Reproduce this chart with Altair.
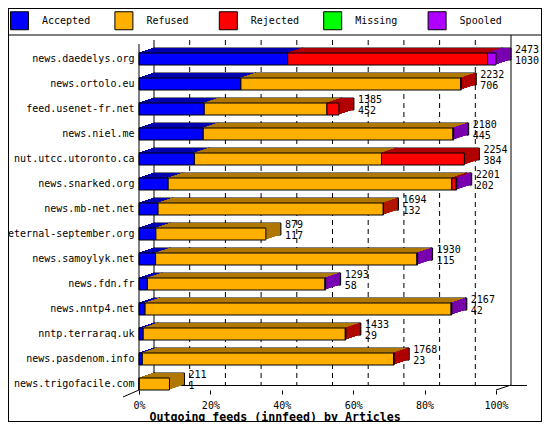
import math
import altair as alt
import pandas as pd

hosts = ["news.daedelys.org", "news.ortolo.eu", "feed.usenet-fr.net", "news.niel.me",
         "nut.utcc.utoronto.ca", "news.snarked.org", "news.mb-net.net",
         "eternal-september.org", "news.samoylyk.net", "news.fdn.fr", "news.nntp4.net",
         "nntp.terraraq.uk", "news.pasdenom.info", "news.trigofacile.com"]
offered = [2473, 2232, 1385, 2180, 2254, 2201, 1694, 879, 1930, 1293, 2167, 1433, 1768, 211]
accepted = [1030, 706, 452, 445, 384, 202, 132, 117, 115, 58, 42, 29, 23, 1]
refused = [0, 1523, 850, 1730, 1296, 1965, 1560, 762, 1810, 1230, 2120, 1400, 1740, 210]
rejected = [1385, 3, 83, 0, 574, 29, 2, 0, 0, 0, 0, 4, 5, 0]
missing = [0, 0, 0, 0, 0, 0, 0, 0, 0, 0, 0, 0, 0, 0]
spooled = [58, 0, 0, 5, 0, 5, 0, 0, 5, 5, 5, 0, 0, 0]

categories = ["Accepted", "Refused", "Rejected", "Missing", "Spooled"]
front_colors = ["#0000ff", "#ffaf00", "#ff0000", "#00ff00", "#af00ff"]
dark_colors = ["#0000b0", "#b07800", "#b00000", "#00b000", "#7800b0"]
pct_ticks = [0, 10, 20, 30, 40, 50, 60, 70, 80, 90, 100]
title_text = "Outgoing feeds (innfeed) by Articles"

FONT = "DejaVu Sans Mono"
scale_max = max(offered)

rows = []
series = [accepted, refused, rejected, missing, spooled]
for i, h in enumerate(hosts):
    cum = 0
    for cat, s in zip(categories, series):
        v = s[i]
        if v > 0:
            rows.append(dict(host=h, cat=cat, start=cum / scale_max * 100,
                             end=(cum + v) / scale_max * 100, value=v))
        cum += v
seg = pd.DataFrame(rows)
lab = pd.DataFrame(dict(host=hosts, offered=offered, accepted=accepted,
                        pct=[o / scale_max * 100 for o in offered]))
grid = pd.DataFrame(dict(pct=pct_ticks[1:-1]))

W, H = 357, 350
PAD_L, PAD_T = 131, 38.5
PAD_R = 534 - PAD_L - W
PAD_B = 414 - PAD_T - H
DEPTH_X, DEPTH_Y = 15, 5
xscale = alt.Scale(domain=[0, 100], nice=False, zero=True)
yscale = alt.Scale(domain=hosts, paddingInner=0, paddingOuter=0)

x_axis = alt.Axis(values=pct_ticks, labelExpr="datum.value + '%'", domain=False, grid=False,
                  tickSize=4, tickColor="black", labelPadding=6, labelFont=FONT,
                  labelFontSize=10, labelColor="black", offset=-6.5, labelFlush=False,
                  labelOverlap=False, title=title_text, titleFont=FONT, titleFontSize=11.6,
                  titleFontWeight="bold", titleColor="black", titleX=10, titleY=27,
                  titleAlign="left", titleBaseline="middle")
y_axis = alt.Axis(title=None, domain=False, ticks=False, labelPadding=5, labelFont=FONT,
                  labelFontSize=10, labelColor="black", labelLimit=0)

base = alt.Chart(seg)
deco = alt.Chart(pd.DataFrame({"a": [0]}))

layers = []
# back wall grid lines and floor
layers.append(alt.Chart(grid).mark_rule(color="black", strokeDash=[5, 4], xOffset=DEPTH_X).encode(
    x=alt.X("pct:Q", scale=xscale, axis=x_axis), y=alt.value(-6.5), y2=alt.value(339)))
layers.append(deco.mark_rule(color="black", xOffset=DEPTH_X).encode(
    x=alt.datum(0), y=alt.value(-6.5), y2=alt.value(339)))
layers.append(deco.mark_rule(color="black", xOffset=DEPTH_X).encode(
    x=alt.datum(100), y=alt.value(-11.5), y2=alt.value(339)))
layers.append(deco.mark_rule(color="black", xOffset=DEPTH_X, x2Offset=31).encode(
    x=alt.datum(0), x2=alt.datum(100), y=alt.value(339)))
layers.append(deco.mark_rule(color="black", xOffset=-16, x2Offset=0).encode(
    x=alt.datum(0), x2=alt.datum(0), y=alt.value(350.5), y2=alt.value(343.5)))
layers.append(deco.mark_rule(color="black", xOffset=0, x2Offset=DEPTH_X).encode(
    x=alt.datum(100), x2=alt.datum(100), y=alt.value(343.5), y2=alt.value(338.5)))

# 3D depth: a sweep of darker copies (top and right faces)
for k in range(DEPTH_X, 0, -1):
    oy = -math.ceil(k * DEPTH_Y / DEPTH_X)
    props = dict(size=12, xOffset=k - 1, x2Offset=k, yOffset=oy, y2Offset=oy)
    if k == DEPTH_X:
        props.update(stroke="black", strokeWidth=1)
    layers.append(base.mark_bar(**props).encode(
        x=alt.X("start:Q", scale=xscale),
        x2="end:Q",
        y=alt.Y("host:N", scale=yscale, axis=y_axis),
        color=alt.Color("cat:N", scale=alt.Scale(domain=categories, range=dark_colors), legend=None),
    ))

# front faces
layers.append(base.mark_bar(size=12, stroke="black", strokeWidth=1).encode(
    x=alt.X("start:Q", scale=xscale),
    x2="end:Q",
    y=alt.Y("host:N", scale=yscale, axis=y_axis),
    color=alt.Color("cat:N", scale=alt.Scale(domain=categories, range=front_colors),
                    legend=alt.Legend(title=None, orient="none", legendX=2 - PAD_L, legendY=3 - PAD_T,
                                      direction="horizontal", columns=5, gridAlign="all",
                                      symbolType="square", symbolSize=324,
                                      symbolStrokeColor="black", symbolStrokeWidth=1,
                                      symbolOpacity=1, labelFont=FONT, labelFontSize=10,
                                      labelColor="black", labelOffset=13, columnPadding=21.4,
                                      padding=0, labelLimit=0)),
))

# value labels
lbl = alt.Chart(lab)
layers.append(lbl.mark_text(align="left", baseline="middle", dx=19, dy=-9, font=FONT,
                            fontSize=10, color="black").encode(
    x=alt.X("pct:Q", scale=xscale), y=alt.Y("host:N", scale=yscale, axis=y_axis),
    text="offered:Q"))
layers.append(lbl.mark_text(align="left", baseline="middle", dx=19, dy=1.5, font=FONT,
                            fontSize=10, color="black").encode(
    x=alt.X("pct:Q", scale=xscale), y=alt.Y("host:N", scale=yscale, axis=y_axis),
    text="accepted:Q"))

# frame and legend separator
L, R = -PAD_L, W + PAD_R
TOP, BOT = -PAD_T, H + PAD_B
layers.append(deco.mark_rule(color="black").encode(
    x=alt.value(L + 0.5), y=alt.value(TOP + 0.5), y2=alt.value(BOT - 0.5)))
layers.append(deco.mark_rule(color="black").encode(
    x=alt.value(R - 0.5), y=alt.value(TOP + 0.5), y2=alt.value(BOT - 0.5)))
layers.append(deco.mark_rule(color="black").encode(
    x=alt.value(L), x2=alt.value(R), y=alt.value(TOP + 0.5)))
layers.append(deco.mark_rule(color="black").encode(
    x=alt.value(L), x2=alt.value(R), y=alt.value(BOT - 0.5)))
layers.append(deco.mark_rule(color="black").encode(
    x=alt.value(L), x2=alt.value(R), y=alt.value(-11.5)))
# front vertical axis line
layers.append(deco.mark_rule(color="black").encode(
    x=alt.datum(0), y=alt.value(-2.5), y2=alt.value(343.5)))

chart = alt.layer(*layers).resolve_scale(color="independent").properties(
    width=W, height=H,
    padding={"left": PAD_L, "top": PAD_T, "right": PAD_R, "bottom": PAD_B},
    autosize=alt.AutoSizeParams(type="none"),
    background="white",
).configure_view(stroke=None)

chart.save("out.html", embed_options={"renderer": "svg", "actions": False})
